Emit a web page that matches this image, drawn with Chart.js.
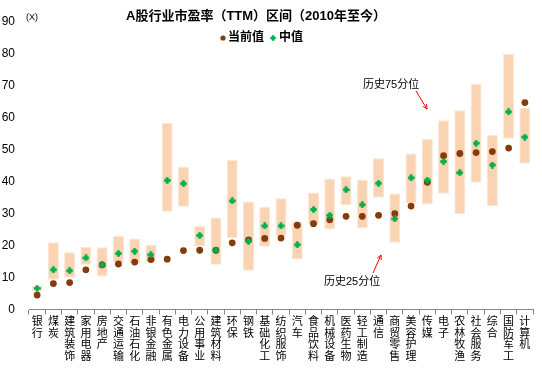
<!DOCTYPE html>
<html>
<head>
<meta charset="utf-8">
<script src="https://cdn.jsdelivr.net/npm/chart.js@4"></script>
<style>
    body { margin: 0; background: #fff; }
    canvas { display: block; }
</style>
</head>
<body>
<canvas id="pe-range" width="542" height="377"></canvas>
<script>
(function () {

    var categories = ['银行', '煤炭', '建筑装饰', '家用电器', '房地产', '交通运输', '石油石化', '非银金融',
        '有色金属', '电力设备', '公用事业', '建筑材料', '环保', '钢铁', '基础化工', '纺织服饰', '汽车',
        '食品饮料', '机械设备', '医药生物', '轻工制造', '通信', '商贸零售', '美容护理', '传媒', '电子',
        '农林牧渔', '社会服务', '综合', '国防军工', '计算机'];

    // historical 25th / 75th percentile
    var p25 = [5.7, 9.3, 9.9, 14.0, 10.3, 14.6, 14.4, 14.8, 30.5, 32.1, 19.7, 14.0, 22.3, 12.1, 19.6, 22.7,
        15.7, 26.6, 25.0, 32.6, 25.4, 34.9, 20.8, 33.1, 32.8, 36.1, 29.7, 39.6, 32.3, 53.3, 45.5];
    var p75 = [7.3, 21.0, 17.9, 19.5, 19.4, 23.0, 22.2, 20.2, 58.3, 44.6, 26.1, 28.7, 46.7, 33.7, 32.0, 34.7,
        27.5, 36.5, 40.9, 41.6, 40.5, 47.2, 36.2, 48.7, 53.3, 59.1, 62.2, 70.4, 54.5, 79.8, 62.9];
    var median = [6.6, 12.4, 12.1, 16.1, 13.9, 17.5, 18.2, 17.1, 40.3, 39.3, 23.1, 18.5, 33.9, 21.3, 26.1, 26.1,
        20.2, 31.2, 29.4, 37.4, 32.7, 39.4, 28.3, 41.1, 40.4, 46.2, 42.7, 51.9, 45.1, 61.7, 53.8];
    var current = [4.5, 8.1, 8.4, 12.4, 13.9, 14.2, 14.8, 15.6, 15.7, 18.4, 18.5, 18.5, 20.8, 21.7, 22.2, 22.3,
        26.3, 26.8, 28.0, 29.1, 29.1, 29.4, 29.9, 32.3, 39.7, 48.0, 48.7, 49.0, 49.3, 50.4, 64.6];

    var yTicks = [0, 10, 20, 30, 40, 50, 60, 70, 80, 90];

    var brown = '#843C0C';
    var green = '#00B050';
    var cjk = '"Liberation Sans", "Noto Sans CJK SC", sans-serif';

    // small filled diamond / plus marker for the median
    function makeMarker(color) {
        var c = document.createElement('canvas');
        c.width = 7;
        c.height = 7;
        var g = c.getContext('2d');
        g.fillStyle = color;
        g.beginPath();
        g.moveTo(3.5, 0);
        g.lineTo(7, 3.5);
        g.lineTo(3.5, 7);
        g.lineTo(0, 3.5);
        g.closePath();
        g.fill();
        g.fillRect(2.3, 0.3, 2.4, 6.4);
        g.fillRect(0.3, 2.3, 6.4, 2.4);
        return c;
    }
    var medianMarker = makeMarker(green);

    // vertical labels: one character per line
    var labels = categories.map(function (name) { return name.split(''); });

    var ranges = p25.map(function (v, i) { return [v, p75[i]]; });

    function arrow(ctx, x1, y1, x2, y2) {
        var a = Math.atan2(y2 - y1, x2 - x1);
        ctx.beginPath();
        ctx.moveTo(x1, y1);
        ctx.lineTo(x2, y2);
        ctx.moveTo(x2 - 5 * Math.cos(a - 0.45), y2 - 5 * Math.sin(a - 0.45));
        ctx.lineTo(x2, y2);
        ctx.lineTo(x2 - 5 * Math.cos(a + 0.45), y2 - 5 * Math.sin(a + 0.45));
        ctx.stroke();
    }

    var decorations = {
        id: 'decorations',
        afterDraw: function (chart) {
            var ctx = chart.ctx;
            ctx.save();

            // title
            ctx.fillStyle = '#000';
            ctx.textAlign = 'center';
            ctx.textBaseline = 'middle';
            ctx.font = 'bold 13px ' + cjk;
            ctx.fillText('A股行业市盈率（TTM）区间（2010年至今）', 256, 16);

            // unit
            ctx.font = '9px ' + cjk;
            ctx.textAlign = 'left';
            ctx.fillText('(X)', 26, 18);

            // legend
            ctx.font = 'bold 12px ' + cjk;
            ctx.fillStyle = brown;
            ctx.beginPath();
            ctx.arc(223, 38, 2.6, 0, Math.PI * 2);
            ctx.fill();
            ctx.fillStyle = '#000';
            ctx.fillText('当前值', 228, 38);
            ctx.drawImage(medianMarker, 270, 35, 6, 6);
            ctx.fillText('中值', 279, 38);

            // percentile notes
            ctx.font = '11px ' + cjk;
            ctx.fillText('历史75分位', 363, 85);
            ctx.fillText('历史25分位', 324, 282);
            ctx.strokeStyle = '#FF0000';
            ctx.lineWidth = 1;
            arrow(ctx, 416, 91, 427, 109);
            arrow(ctx, 373, 273, 381, 255);

            ctx.restore();
        }
    };

    var canvas = document.getElementById('pe-range').getContext('2d');

    new Chart(canvas, {
        type: 'bar',
        data: {
            labels: labels,
            datasets: [
                {
                    label: '中值',
                    type: 'line',
                    data: median,
                    showLine: false,
                    pointStyle: medianMarker,
                    pointRadius: 3.5,
                    order: 1
                },
                {
                    label: '当前值',
                    type: 'line',
                    data: current,
                    showLine: false,
                    pointStyle: 'circle',
                    pointRadius: 3.4,
                    pointBorderWidth: 0,
                    pointBackgroundColor: brown,
                    pointBorderColor: brown,
                    order: 2
                },
                {
                    label: '区间',
                    data: ranges,
                    backgroundColor: '#FAD3B3',
                    borderColor: '#FDE6D5',
                    borderWidth: 1,
                    borderSkipped: false,
                    categoryPercentage: 1,
                    barPercentage: 0.68,
                    order: 3
                }
            ]
        },
        options: {
            responsive: false,
            animation: false,
            layout: { padding: { top: 19, right: 9, left: 0, bottom: 0 } },
            plugins: {
                legend: { display: false },
                title: { display: false },
                tooltip: { enabled: false }
            },
            scales: {
                x: {
                    offset: true,
                    grid: {
                        offset: true,
                        drawOnChartArea: false,
                        drawTicks: true,
                        tickLength: 5,
                        color: '#868686'
                    },
                    border: { color: '#868686', width: 1 },
                    ticks: {
                        autoSkip: false,
                        maxRotation: 0,
                        minRotation: 0,
                        padding: 2,
                        color: '#000',
                        font: { family: cjk, size: 11, lineHeight: 1.05 }
                    },
                    afterFit: function (scale) { scale.height = 67.5; }
                },
                y: {
                    min: 0,
                    max: 90,
                    afterBuildTicks: function (scale) {
                        scale.ticks = yTicks.map(function (v) { return { value: v }; });
                    },
                    grid: { display: false, drawTicks: false },
                    border: { display: false },
                    ticks: {
                        padding: 14,
                        color: '#000',
                        font: { family: cjk, size: 12 }
                    },
                    afterFit: function (scale) { scale.width = 29; }
                }
            }
        },
        plugins: [decorations]
    });

})();
</script>
</body>
</html>
